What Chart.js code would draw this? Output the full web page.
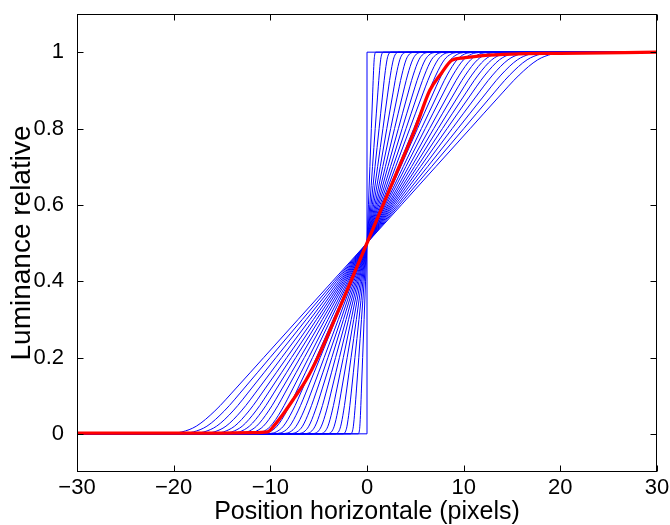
<!DOCTYPE html>
<html>
<head>
<meta charset="utf-8">
<title>Luminance relative</title>
<script src="https://cdn.jsdelivr.net/npm/chart.js@4.4.1/dist/chart.umd.min.js"></script>
<style>
  html, body { margin: 0; padding: 0; background: #fff; }
  #wrap { width: 670px; height: 525px; }
</style>
</head>
<body>
<div id="wrap"><canvas id="chart" width="670" height="525"></canvas></div>
<script>
// luminance levels at which each blue curve's position was read
const levels = [0, 0, 0.001, 0.005, 0.02, 0.06, 0.12, 0.2, 0.3, 0.4, 0.5, 0.6, 0.7, 0.8, 0.88, 0.94, 0.98, 0.995, 0.999, 1, 1];

// horizontal position (pixels) of each blurred edge at those levels
const blurredEdgesX = [
    [-30, 0, 0, 0, 0, 0, 0, 0, 0, 0, 0, 0, 0, 0, 0, 0, 0, 0, 0, 0, 30],
    [-30, -0.90, -0.86, -0.81, -0.74, -0.66, -0.57, -0.45, -0.30, -0.15, 0, 0.15, 0.30, 0.45, 0.57, 0.66, 0.74, 0.81, 0.86, 0.90, 30],
    [-30, -1.71, -1.63, -1.53, -1.41, -1.26, -1.08, -0.85, -0.57, -0.29, 0, 0.29, 0.57, 0.85, 1.08, 1.26, 1.41, 1.53, 1.63, 1.71, 30],
    [-30, -2.50, -2.39, -2.24, -2.07, -1.84, -1.58, -1.25, -0.83, -0.42, 0, 0.42, 0.83, 1.25, 1.58, 1.84, 2.07, 2.24, 2.39, 2.50, 30],
    [-30, -3.29, -3.14, -2.95, -2.72, -2.42, -2.08, -1.65, -1.10, -0.55, 0, 0.55, 1.10, 1.65, 2.08, 2.42, 2.72, 2.95, 3.14, 3.29, 30],
    [-30, -4.10, -3.92, -3.68, -3.39, -3.02, -2.60, -2.05, -1.37, -0.68, 0, 0.68, 1.37, 2.05, 2.60, 3.02, 3.39, 3.68, 3.92, 4.10, 30],
    [-30, -4.89, -4.67, -4.39, -4.04, -3.60, -3.10, -2.45, -1.63, -0.82, 0, 0.82, 1.63, 2.45, 3.10, 3.60, 4.04, 4.39, 4.67, 4.89, 30],
    [-30, -5.70, -5.45, -5.11, -4.72, -4.20, -3.61, -2.85, -1.90, -0.95, 0, 0.95, 1.90, 2.85, 3.61, 4.20, 4.72, 5.11, 5.45, 5.70, 30],
    [-30, -6.49, -6.20, -5.82, -5.37, -4.78, -4.11, -3.25, -2.16, -1.08, 0, 1.08, 2.16, 3.25, 4.11, 4.78, 5.37, 5.82, 6.20, 6.49, 30],
    [-30, -7.28, -6.96, -6.53, -6.02, -5.37, -4.61, -3.64, -2.43, -1.21, 0, 1.21, 2.43, 3.64, 4.61, 5.37, 6.02, 6.53, 6.96, 7.28, 30],
    [-30, -8.07, -7.71, -7.24, -6.67, -5.95, -5.11, -4.04, -2.69, -1.35, 0, 1.35, 2.69, 4.04, 5.11, 5.95, 6.67, 7.24, 7.71, 8.07, 30],
    [-30, -8.86, -8.47, -7.95, -7.33, -6.53, -5.61, -4.43, -2.96, -1.48, 0, 1.48, 2.96, 4.43, 5.61, 6.53, 7.33, 7.95, 8.47, 8.86, 30],
    [-30, -9.68, -9.24, -8.68, -8.00, -7.13, -6.13, -4.84, -3.23, -1.61, 0, 1.61, 3.23, 4.84, 6.13, 7.13, 8.00, 8.68, 9.24, 9.68, 30],
    [-30, -10.47, -10.00, -9.39, -8.65, -7.71, -6.63, -5.23, -3.49, -1.74, 0, 1.74, 3.49, 5.23, 6.63, 7.71, 8.65, 9.39, 10.00, 10.47, 30],
    [-30, -11.26, -10.75, -10.09, -9.31, -8.29, -7.13, -5.63, -3.75, -1.88, 0, 1.88, 3.75, 5.63, 7.13, 8.29, 9.31, 10.09, 10.75, 11.26, 30],
    [-30, -12.07, -11.53, -10.82, -9.98, -8.89, -7.64, -6.03, -4.02, -2.01, 0, 2.01, 4.02, 6.03, 7.64, 8.89, 9.98, 10.82, 11.53, 12.07, 30],
    [-30, -12.97, -12.38, -11.63, -10.72, -9.55, -8.21, -6.48, -4.32, -2.16, 0, 2.16, 4.32, 6.48, 8.21, 9.55, 10.72, 11.63, 12.38, 12.97, 30],
    [-30, -13.82, -13.20, -12.39, -11.43, -10.18, -8.75, -6.91, -4.61, -2.30, 0, 2.30, 4.61, 6.91, 8.75, 10.18, 11.43, 12.39, 13.20, 13.82, 30],
    [-30, -14.72, -14.06, -13.20, -12.17, -10.84, -9.32, -7.36, -4.91, -2.45, 0, 2.45, 4.91, 7.36, 9.32, 10.84, 12.17, 13.20, 14.06, 14.72, 30],
    [-30, -15.61, -14.91, -14.00, -12.91, -11.50, -9.89, -7.81, -5.21, -2.60, 0, 2.60, 5.21, 7.81, 9.89, 11.50, 12.91, 14.00, 14.91, 15.61, 30],
    [-30, -16.58, -15.83, -14.86, -13.70, -12.21, -10.50, -8.29, -5.53, -2.76, 0, 2.76, 5.53, 8.29, 10.50, 12.21, 13.70, 14.86, 15.83, 16.58, 30],
    [-30, -17.64, -16.85, -15.82, -14.59, -13.00, -11.17, -8.82, -5.88, -2.94, 0, 2.94, 5.88, 8.82, 11.17, 13.00, 14.59, 15.82, 16.85, 17.64, 30],
    [-30, -18.82, -17.97, -16.87, -15.56, -13.86, -11.92, -9.41, -6.27, -3.14, 0, 3.14, 6.27, 9.41, 11.92, 13.86, 15.56, 16.87, 17.97, 18.82, 30],
    [-30, -20.04, -19.13, -17.97, -16.56, -14.76, -12.69, -10.02, -6.68, -3.34, 0, 3.34, 6.68, 10.02, 12.69, 14.76, 16.56, 17.97, 19.13, 20.04, 30],
    [-30, -21.36, -20.40, -19.15, -17.66, -15.74, -13.53, -10.68, -7.12, -3.56, 0, 3.56, 7.12, 10.68, 13.53, 15.74, 17.66, 19.15, 20.40, 21.36, 30],
];

// the highlighted (red) profile
const redX = [-30, -16, -12, -10.3, -9.5, -8.5, -7.5, -6.3, -5, -3, -1, 0, 1, 3, 5, 6.5, 7.7, 8.8, 10, 12, 15, 20, 30];
const redY = [0.002, 0.002, 0.003, 0.005, 0.025, 0.058, 0.095, 0.141, 0.205, 0.32, 0.44, 0.5, 0.56, 0.68, 0.8, 0.9, 0.945, 0.979, 0.985, 0.991, 0.995, 0.997, 1];

const xTicks = [-30, -20, -10, 0, 10, 20, 30];
const xTickLabels = ["\u221230", "\u221220", "\u221210", "0", "10", "20", "30"];
const yTicks = [0, 0.2, 0.4, 0.6, 0.8, 1];
const yTickLabels = ["0", "0.2", "0.4", "0.6", "0.8", "1"];

const FONT = "'Liberation Sans', Arial, Helvetica, sans-serif";

function toPoints(xs, ys) {
    return xs.map((x, i) => ({ x: x, y: ys[i] }));
}

const datasets = [
    {
        data: toPoints(redX, redY),
        borderColor: "#ff0000",
        borderWidth: 3.3,
        cubicInterpolationMode: "monotone",
        order: 0,
    },
];
blurredEdgesX.forEach((xs, i) => {
    datasets.push({
        data: toPoints(xs, levels),
        borderColor: "#0000ff",
        borderWidth: 1,
        // the sharp edge is a plain step, the others are smooth
        cubicInterpolationMode: i === 0 ? "default" : "monotone",
        tension: 0,
        order: 1,
    });
});

// box round the plot with inward tick marks on all four sides
const framePlugin = {
    id: "frame",
    afterDraw(chart) {
        const { ctx, chartArea: a, scales } = chart;
        const l = Math.round(a.left) + 0.5;
        const r = Math.round(a.right) - 0.5;
        const t = Math.round(a.top) + 0.5;
        const b = Math.round(a.bottom) - 0.5;
        ctx.save();
        ctx.strokeStyle = "#000";
        ctx.lineWidth = 1;
        ctx.strokeRect(l, t, r - l, b - t);
        ctx.beginPath();
        xTicks.forEach((v) => {
            const px = Math.round(scales.x.getPixelForValue(v)) + 0.5;
            ctx.moveTo(px, b); ctx.lineTo(px, b - 6);
            ctx.moveTo(px, t); ctx.lineTo(px, t + 6);
        });
        yTicks.forEach((v) => {
            const py = Math.round(scales.y.getPixelForValue(v)) + 0.5;
            ctx.moveTo(l, py); ctx.lineTo(l + 6, py);
            ctx.moveTo(r, py); ctx.lineTo(r - 6, py);
        });
        ctx.stroke();
        ctx.restore();
    },
};

new Chart(document.getElementById("chart"), {
    type: "line",
    data: { datasets },
    options: {
        responsive: false,
        animation: false,
        events: [],
        elements: { point: { radius: 0 }, line: { fill: false } },
        layout: { padding: { top: 14, right: 13, left: 0, bottom: 0 } },
        plugins: { legend: { display: false }, tooltip: { enabled: false } },
        scales: {
            x: {
                type: "linear",
                min: -30,
                max: 30,
                grid: { display: false, drawTicks: false },
                border: { display: false },
                afterBuildTicks: (s) => { s.ticks = xTicks.map((v) => ({ value: v })); },
                afterFit: (s) => { s.height = 53; s.paddingLeft = 0; s.paddingRight = 0; },
                ticks: {
                    color: "#000",
                    padding: 3,
                    maxRotation: 0,
                    autoSkip: false,
                    font: { family: FONT, size: 22 },
                    callback: (v) => xTickLabels[xTicks.indexOf(v)],
                },
                title: {
                    display: true,
                    text: "Position horizontale (pixels)",
                    color: "#000",
                    padding: 0,
                    font: { family: FONT, size: 25, lineHeight: 1.05 },
                },
            },
            y: {
                type: "linear",
                min: -0.1,
                max: 1.1,
                grid: { display: false, drawTicks: false },
                border: { display: false },
                afterBuildTicks: (s) => { s.ticks = yTicks.map((v) => ({ value: v })); },
                afterFit: (s) => { s.width = 77; s.paddingTop = 0; s.paddingBottom = 0; },
                ticks: {
                    color: "#000",
                    padding: 13,
                    autoSkip: false,
                    font: { family: FONT, size: 22 },
                    callback: (v) => yTickLabels[yTicks.indexOf(v)],
                },
                title: {
                    display: true,
                    text: "Luminance relative",
                    color: "#000",
                    padding: { top: 8, bottom: 0 },
                    font: { family: FONT, size: 28, lineHeight: 1 },
                },
            },
        },
    },
    plugins: [framePlugin],
});
</script>
</body>
</html>
